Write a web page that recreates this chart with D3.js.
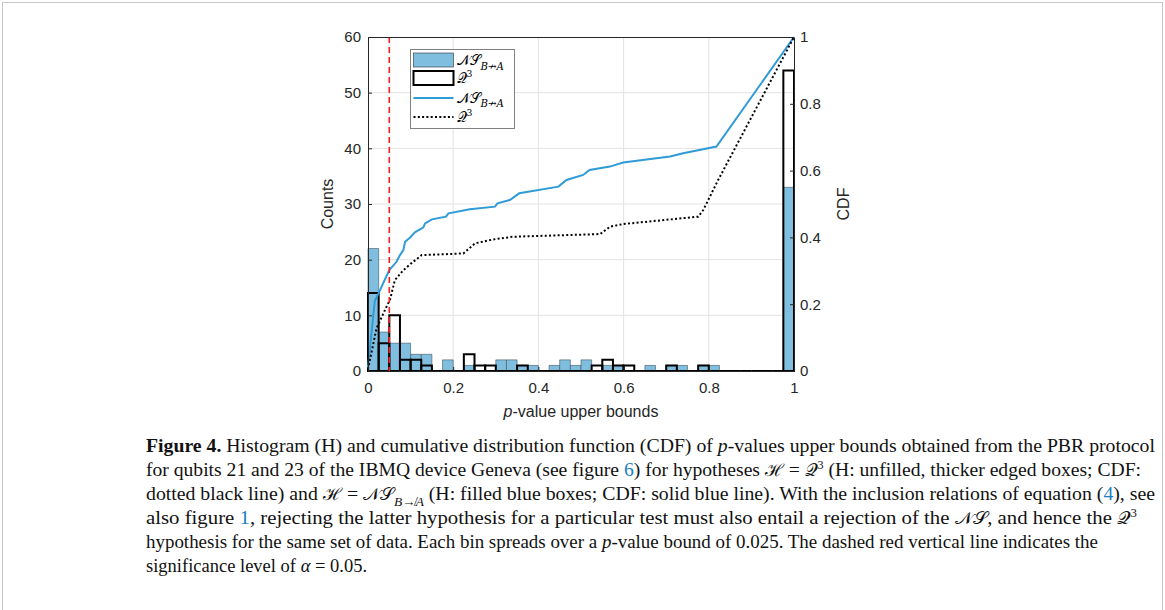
<!DOCTYPE html>
<html>
<head>
<meta charset="utf-8">
<script src="https://cdn.jsdelivr.net/npm/d3@7"></script>
<style>
  body { margin: 0; background: #fff; }
  svg { display: block; }
</style>
</head>
<body>
<svg class="chart"></svg>
<script>
// histogram counts, 40 bins of width 0.025 over [0, 1]
var binWidth = 0.025;
var nsCounts = [22,7,5,5,3,3,0,2,0,1, 0,0,2,2,1,1,0,1,2,1, 2,0,1,1,0,0,1,0,1,1, 0,1,1,0,0,0,0,0,0,33];
var q3Counts = [14,5,10,2,2,1,0,0,0,3, 1,1,0,0,1,0,0,0,0,0, 0,1,2,1,1,0,0,0,1,0, 0,1,0,0,0,0,0,0,0,54];

// CDF curves: p-value, CDF
var nsCdfP = [0, 0.016, 0.025, 0.05, 0.067, 0.075, 0.083, 0.087, 0.099, 0.110, 0.130, 0.134, 0.150, 0.183, 0.189, 0.239, 0.298, 0.304, 0.333, 0.355, 0.447, 0.466, 0.505, 0.520, 0.568, 0.599, 0.709, 0.740, 0.818, 1];
var nsCdfV = [0.01, 0.21, 0.233, 0.302, 0.327, 0.347, 0.362, 0.387, 0.40, 0.415, 0.43, 0.442, 0.454, 0.462, 0.472, 0.484, 0.492, 0.502, 0.512, 0.532, 0.552, 0.572, 0.587, 0.602, 0.612, 0.624, 0.642, 0.652, 0.672, 1];
var q3CdfP = [0, 0.02, 0.04, 0.052, 0.063, 0.083, 0.106, 0.126, 0.224, 0.251, 0.294, 0.341, 0.545, 0.568, 0.599, 0.775, 0.787, 0.822, 1];
var q3CdfV = [0.005, 0.128, 0.183, 0.215, 0.272, 0.302, 0.327, 0.347, 0.352, 0.382, 0.394, 0.402, 0.410, 0.432, 0.440, 0.462, 0.482, 0.572, 1];

var alpha = 0.05;

var xTicks = [0, 0.2, 0.4, 0.6, 0.8, 1];
var xTickLabels = ["0", "0.2", "0.4", "0.6", "0.8", "1"];
var countTicks = [0, 10, 20, 30, 40, 50, 60];
var cdfTicks = [0, 0.2, 0.4, 0.6, 0.8, 1];
var cdfTickLabels = ["0", "0.2", "0.4", "0.6", "0.8", "1"];

// caption, one array of [text, style] pieces per line
var caption = [
  [["Figure 4.", "b"], [" Histogram (H) and cumulative distribution function (CDF) of "], ["p", "i"], ["-values upper bounds obtained from the PBR protocol"]],
  [["for qubits 21 and 23 of the IBMQ device Geneva (see figure "], ["6", "link"], [") for hypotheses "], ["\u210B", "m"], [" = "], ["\uD835\uDCAC", "m"], ["3", "sup"], [" (H: unfilled, thicker edged boxes; CDF:"]],
  [["dotted black line) and "], ["\u210B", "m"], [" = "], ["\uD835\uDCA9\uD835\uDCAE", "m"], ["B\u219BA", "sub"], [" (H: filled blue boxes; CDF: solid blue line). With the inclusion relations of equation ("], ["4", "link"], ["), see"]],
  [["also figure "], ["1", "link"], [", rejecting the latter hypothesis for a particular test must also entail a rejection of the "], ["\uD835\uDCA9\uD835\uDCAE", "m"], [", and hence the "], ["\uD835\uDCAC", "m"], ["3", "sup"]],
  [["hypothesis for the same set of data. Each bin spreads over a "], ["p", "i"], ["-value bound of 0.025. The dashed red vertical line indicates the"]],
  [["significance level of "], ["\u03B1", "i"], [" = 0.05."]]
];
var captionWidths = [1009, 995, 1009, 991, 952, null];

var width = 1165, height = 610;
var plot = {left: 368, top: 37, right: 794, bottom: 371};

var svg = d3.select(".chart")
    .attr("width", width)
    .attr("height", height);

// thin frame round the figure
svg.append("rect")
    .attr("x", 2.5).attr("y", 2.5)
    .attr("width", 1160).attr("height", 640)
    .attr("fill", "none")
    .attr("stroke", "#c8c8c8");

var x = d3.scaleLinear().domain([0, 1]).range([plot.left, plot.right]);
var yCount = d3.scaleLinear().domain([0, 60]).range([plot.bottom, plot.top]);
var yCdf = d3.scaleLinear().domain([0, 1]).range([plot.bottom, plot.top]);

// grid
var grid = svg.append("g").attr("stroke", "#e3e3e3").attr("stroke-width", 1);
grid.selectAll(".gx")
    .data(xTicks.slice(1, -1))
  .enter().append("line")
    .attr("x1", function (d) { return x(d); }).attr("x2", function (d) { return x(d); })
    .attr("y1", plot.top).attr("y2", plot.bottom);
grid.selectAll(".gy")
    .data(countTicks.slice(1, -1))
  .enter().append("line")
    .attr("x1", plot.left).attr("x2", plot.right)
    .attr("y1", function (d) { return yCount(d); }).attr("y2", function (d) { return yCount(d); });

function barPath(c, i) {
  var x0 = x(i * binWidth), x1 = x((i + 1) * binWidth);
  return "M" + x0 + "," + yCount(0) + "V" + yCount(c) + "H" + x1 + "V" + yCount(0) + "Z";
}

svg.append("g").selectAll("path")
    .data(nsCounts)
  .enter().append("path")
    .attr("d", barPath)
    .attr("fill", "#80bee0")
    .attr("stroke", "#3a4a55")
    .attr("stroke-opacity", 0.8)
    .attr("stroke-width", 0.7);

svg.append("g").selectAll("path")
    .data(q3Counts)
  .enter().append("path")
    .attr("d", barPath)
    .attr("fill", "none")
    .attr("stroke", "#000")
    .attr("stroke-width", 2);

// CDF lines
var line = d3.line()
    .x(function (d) { return x(d[0]); })
    .y(function (d) { return yCdf(d[1]); });

svg.append("path")
    .datum(nsCdfP.map(function (p, i) { return [p, nsCdfV[i]]; }))
    .attr("d", line)
    .attr("fill", "none")
    .attr("stroke", "#2f9bd7")
    .attr("stroke-width", 2);

svg.append("path")
    .datum(q3CdfP.map(function (p, i) { return [p, q3CdfV[i]]; }))
    .attr("d", line)
    .attr("fill", "none")
    .attr("stroke", "#000")
    .attr("stroke-width", 2)
    .attr("stroke-dasharray", "2,2.3");

// significance level
svg.append("line")
    .attr("x1", x(alpha)).attr("x2", x(alpha))
    .attr("y1", plot.top).attr("y2", plot.bottom)
    .attr("stroke", "#ff1a1a")
    .attr("stroke-width", 1.6)
    .attr("stroke-dasharray", "6,4");

// axes
var axisFont = "'Liberation Sans', Arial, sans-serif";

var xAxis = d3.axisBottom(x).tickValues(xTicks)
    .tickFormat(function (d, i) { return xTickLabels[i]; })
    .tickSizeInner(-4).tickSizeOuter(0).tickPadding(11);
var leftAxis = d3.axisLeft(yCount).tickValues(countTicks)
    .tickSizeInner(-4).tickSizeOuter(0).tickPadding(7);
var rightAxis = d3.axisRight(yCdf).tickValues(cdfTicks)
    .tickFormat(function (d, i) { return cdfTickLabels[i]; })
    .tickSizeInner(-4).tickSizeOuter(0).tickPadding(6);

function styleAxis(g) {
  g.selectAll("path").attr("stroke", "#262626");
  g.selectAll("line").attr("stroke", "#262626");
  g.selectAll("text").attr("fill", "#262626")
      .style("font-family", axisFont).style("font-size", "15px");
}

svg.append("g").attr("transform", "translate(0," + plot.bottom + ")").call(xAxis).call(styleAxis);
svg.append("g").attr("transform", "translate(" + plot.left + ",0)").call(leftAxis).call(styleAxis);
svg.append("g").attr("transform", "translate(" + plot.right + ",0)").call(rightAxis).call(styleAxis);

svg.append("line")
    .attr("x1", plot.left).attr("x2", plot.right)
    .attr("y1", plot.top + 0.5).attr("y2", plot.top + 0.5)
    .attr("stroke", "#262626");

// axis labels
var xLabel = svg.append("text")
    .attr("x", (plot.left + plot.right) / 2)
    .attr("y", 417)
    .attr("text-anchor", "middle")
    .attr("fill", "#262626")
    .style("font-family", axisFont).style("font-size", "16px");
xLabel.append("tspan").style("font-style", "italic").text("p");
xLabel.append("tspan").text("-value upper bounds");

svg.append("text")
    .attr("transform", "translate(333," + (plot.top + plot.bottom) / 2 + ") rotate(-90)")
    .attr("text-anchor", "middle")
    .attr("fill", "#262626")
    .style("font-family", axisFont).style("font-size", "16px")
    .text("Counts");

svg.append("text")
    .attr("transform", "translate(849," + (plot.top + plot.bottom) / 2 + ") rotate(-90)")
    .attr("text-anchor", "middle")
    .attr("fill", "#262626")
    .style("font-family", axisFont).style("font-size", "16px")
    .text("CDF");

// legend
var mathFont = "'DejaVu Serif', 'Liberation Serif', serif";
var legend = svg.append("g").attr("transform", "translate(410.5,49.5)");
legend.append("rect")
    .attr("width", 104).attr("height", 79)
    .attr("fill", "#fff")
    .attr("stroke", "#808080");

legend.append("rect").attr("x", 3).attr("y", 3.5).attr("width", 40).attr("height", 14)
    .attr("fill", "#80bee0").attr("stroke", "#3a4a55").attr("stroke-width", 0.7);
legend.append("rect").attr("x", 3).attr("y", 21.5).attr("width", 40).attr("height", 14)
    .attr("fill", "none").attr("stroke", "#000").attr("stroke-width", 2);
legend.append("line").attr("x1", 3).attr("x2", 43).attr("y1", 48.5).attr("y2", 48.5)
    .attr("stroke", "#2f9bd7").attr("stroke-width", 2);
legend.append("line").attr("x1", 3).attr("x2", 43).attr("y1", 67.5).attr("y2", 67.5)
    .attr("stroke", "#000").attr("stroke-width", 2).attr("stroke-dasharray", "2,2.3");

var legendRows = [
  [["\uD835\uDCA9\uD835\uDCAE", "m"], ["B\u219BA", "sub"]],
  [["\uD835\uDCAC", "m"], ["3", "sup"]],
  [["\uD835\uDCA9\uD835\uDCAE", "m"], ["B\u219BA", "sub"]],
  [["\uD835\uDCAC", "m"], ["3", "sup"]]
];
var legendY = [15.5, 33.5, 53, 72];

// append styled pieces; a sub/superscript shift is undone on the next piece
function addPieces(t, pieces, size) {
  var shift = 0;
  pieces.forEach(function (p) {
    var s = p[1];
    var ts = t.append("tspan").text(p[0]);
    var dy = -shift;
    shift = 0;
    if (s === "b") ts.style("font-weight", "bold");
    if (s === "i") ts.style("font-style", "italic");
    if (s === "link") ts.attr("fill", "#1a7fc1");
    if (s === "m") ts.style("font-family", mathFont).style("font-size", (size * 0.92) + "px");
    if (s === "sub") {
      shift = size * 0.3;
      ts.style("font-size", (size * 0.68) + "px").style("font-style", "italic");
    }
    if (s === "sup") {
      shift = -size * 0.38;
      ts.style("font-size", (size * 0.62) + "px");
    }
    dy += shift;
    if (dy !== 0) ts.attr("dy", dy);
  });
}

legendRows.forEach(function (row, i) {
  var t = legend.append("text")
      .attr("x", 46).attr("y", legendY[i])
      .attr("fill", "#000")
      .style("font-family", mathFont).style("font-size", "15px");
  addPieces(t, row, 15);
});

// caption
caption.forEach(function (pieces, i) {
  var t = svg.append("text")
      .attr("x", 146).attr("y", 452 + i * 24)
      .attr("fill", "#111")
      .style("font-family", "'Liberation Serif', 'Times New Roman', serif")
      .style("font-size", "18.5px");
  if (captionWidths[i]) {
    t.attr("textLength", captionWidths[i]).attr("lengthAdjust", "spacingAndGlyphs");
  }
  addPieces(t, pieces, 18.5);
});
</script>
</body>
</html>
